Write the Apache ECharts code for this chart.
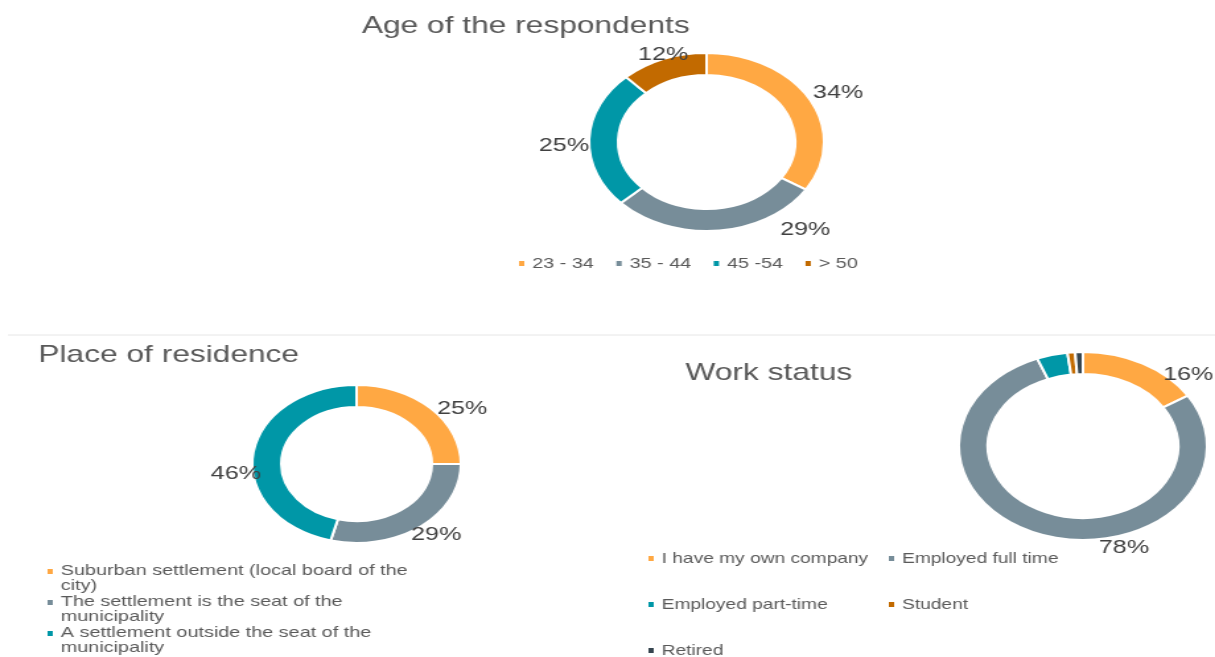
<!DOCTYPE html>
<html>
<head>
<meta charset="utf-8">
<script src="https://cdn.jsdelivr.net/npm/echarts@6/dist/echarts.min.js"></script>
<style>
  html, body { margin: 0; padding: 0; background: #fff; overflow: hidden; }
  /* the source picture is stretched sideways, so the chart is drawn narrow and widened */
  #echart-box { width: 920px; height: 720px; transform: scaleX(1.3207); transform-origin: 0 0; }
</style>
</head>
<body>
<div id="echart-box"></div>
<script>
var ageNames = ['23 - 34', '35 - 44', '45 -54', '> 50'];
var ageValues = [34, 29, 25, 12];

var placeNames = [
  'Suburban settlement (local board of the city)',
  'The settlement is the seat of the municipality',
  'A settlement outside the seat of the municipality'
];
var placeValues = [25, 29, 46];

var workNames = ['I have my own company', 'Employed full time', 'Employed part-time', 'Student', 'Retired'];
var workValues = [16, 78, 4, 1, 1];

var colors = ['#FFA843', '#778D99', '#0097A7', '#C26A00', '#36454F'];

function toData(names, values) {
  var list = [];
  for (var i = 0; i < names.length; i++) {
    list.push({ name: names[i], value: values[i], itemStyle: { color: colors[i] } });
  }
  return list;
}

// nudges: Excel's "best fit" puts the labels a bit off the radial line
function donut(center, radius, data, nudge, minShown) {
  return {
    type: 'pie',
    center: center,
    radius: radius,
    startAngle: 90,
    clockwise: true,
    avoidLabelOverlap: false,
    itemStyle: { borderColor: '#fff', borderWidth: 2 },
    label: {
      show: true,
      position: 'outside',
      color: '#404040',
      fontSize: 19,
      fontFamily: 'Liberation Sans, Arial, sans-serif',
      formatter: function (p) {
        return p.percent < minShown ? '' : Math.round(p.percent) + '%';
      }
    },
    labelLine: { show: false, length: 3, length2: 0 },
    labelLayout: function (p) {
      var n = nudge[p.dataIndex] || [0, 0];
      return { dx: n[0], dy: n[1] };
    },
    emphasis: { disabled: true },
    data: data
  };
}

function init() {
  const element = document.getElementById('echart-box');
  const instance = echarts.init(element);

  var font = 'Liberation Sans, Arial, sans-serif';
  var titleText = { color: '#595959', fontSize: 24, fontWeight: 'normal', fontFamily: font };
  var legendText = { color: '#595959', fontSize: 14.5, fontFamily: font };
  // square marker sitting on the first of two text lines
  var topSquare = 'path://M0,0L0.01,0Z M0,4L6,4L6,11L0,11Z M0,29L0.01,29Z';

  var option = {
    animation: false,
    title: [
      { text: 'Age of the respondents', left: 274, top: 14, padding: 0, textStyle: titleText },
      { text: 'Place of residence', left: 29, top: 343, padding: 0, textStyle: titleText },
      { text: 'Work status', left: 519, top: 361, padding: 0, textStyle: titleText }
    ],
    legend: [
      { data: ageNames, left: 391, top: 256, padding: 0, orient: 'horizontal', icon: 'rect',
        itemWidth: 6, itemHeight: 7, itemGap: 15,
        textStyle: { color: '#595959', fontSize: 15, fontFamily: font } },
      { data: placeNames, left: 34, top: 563, padding: 0, orient: 'vertical', icon: topSquare,
        itemWidth: 6, itemHeight: 29, itemGap: 0,
        textStyle: { color: '#595959', fontSize: 15, fontFamily: font, width: 270,
          overflow: 'break', lineHeight: 15.5 } },
      { data: [workNames[0], workNames[2], workNames[4]], left: 489, top: 551, padding: 0,
        orient: 'vertical', icon: 'rect', itemWidth: 6, itemHeight: 7, itemGap: 31,
        textStyle: legendText },
      { data: [workNames[1], workNames[3]], left: 671, top: 551, padding: 0,
        orient: 'vertical', icon: 'rect', itemWidth: 6, itemHeight: 7, itemGap: 31,
        textStyle: legendText }
    ],
    graphic: [
      { type: 'line', shape: { x1: 6, y1: 335, x2: 920, y2: 335 },
        style: { stroke: '#e6e6e6', lineWidth: 1 } }
    ],
    series: [
      donut([535, 142], [67, 89], toData(ageNames, ageValues),
        [[-5, -5], [42, -4], [8, 7], [25, -2]], 0),
      donut([270, 464], [57, 79], toData(placeNames, placeValues),
        [[-2, 3], [-14, 6], [14, 20]], 0),
      donut([820, 446], [72, 94], toData(workNames, workValues),
        [[9, 14], [85, 10]], 10)
    ]
  };
  option && instance.setOption(option);

  window.onresize = function () {
    instance.resize();
  };
}
init();
</script>
</body>
</html>
